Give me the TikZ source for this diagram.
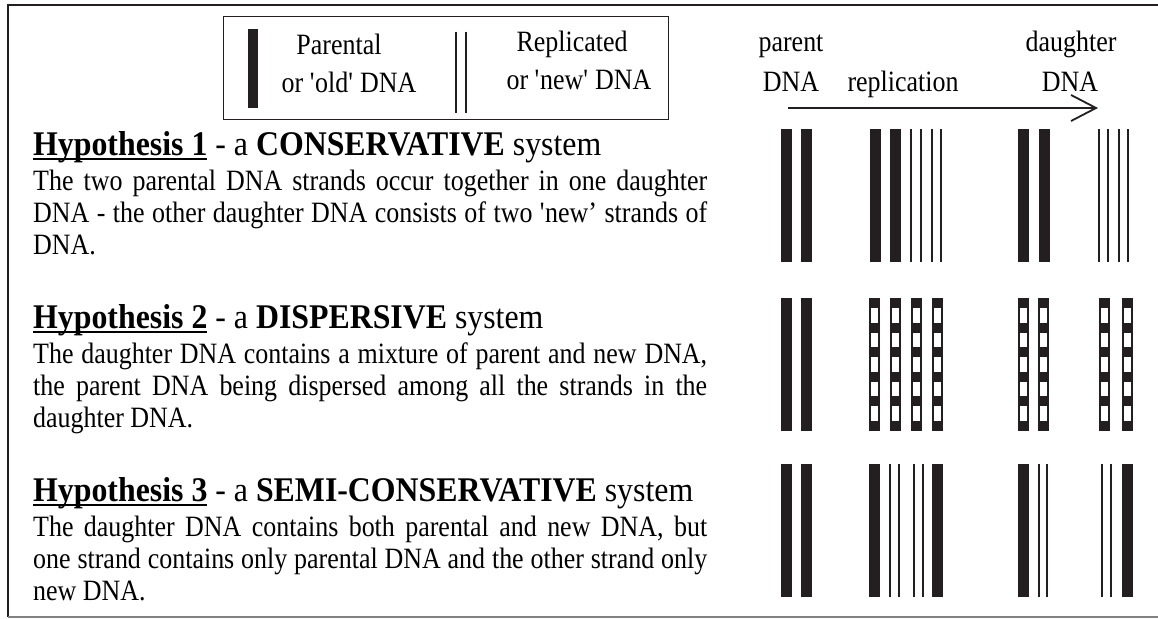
\documentclass[tikz,border=0pt]{standalone}
\usepackage{fontspec}
\setmainfont{Liberation Serif}[FakeStretch=0.88]
\newfontfamily\headfamily{Liberation Serif}[FakeStretch=0.92]
\usepackage{tikz}
\usetikzlibrary{arrows.meta, positioning}
\usepackage{xcolor}

\definecolor{strandblack}{HTML}{231F20}
\definecolor{framegray}{HTML}{808080}

\newcommand{\bodyfont}{\fontsize{29.5}{32}\selectfont}
\newcommand{\headfont}{\headfamily\fontsize{34.6}{38}\selectfont}
\newlength{\linew}\setlength{\linew}{674pt}
\newsavebox{\hypbox}
\newcommand{\hypname}[1]{\sbox{\hypbox}{\textbf{#1}}\rlap{\rule[-4.5pt]{\wd\hypbox}{2pt}}\usebox{\hypbox}}
\newcommand{\sq}{\textquotesingle}

\tikzset{
  headtext/.style={anchor=base west, inner sep=0pt, font=\headfont},
  bodytext/.style={anchor=base west, inner sep=0pt, font=\bodyfont},
  labeltext/.style={anchor=base, inner sep=0pt, font=\bodyfont},
  oldstrand/.style={fill=strandblack},
  newstrand/.style={draw=strandblack, line width=1.6pt},
}

% one strand of DNA: x of left edge (or centre for thin ones), y of top
\newcommand{\oldDNA}[2]{\fill[oldstrand] (#1,#2) rectangle ++(11,133);}
\newcommand{\newDNA}[2]{\draw[newstrand] (#1,#2) -- ++(0,133);}
\newcommand{\mixDNA}[2]{%
  \fill[oldstrand] (#1,#2) rectangle ++(11,133);
  \foreach \k in {0,...,4}
    \fill[white] ({#1+1.8},{#2+10+\k*24.6}) rectangle ++(7.4,14.6);}

\begin{document}
\begin{tikzpicture}[x=1pt, y=-1pt]
  \useasboundingbox (0,0) rectangle (1158,618);

  % frame
  \coordinate (frameTL) at (8,5);
  \coordinate (frameTR) at (1158,5);
  \coordinate (frameBL) at (8,617);
  \coordinate (frameBR) at (1158,617);
  \draw[line width=2.4pt, strandblack] (frameTR) -- (frameTL) -- (frameBL);
  \draw[line width=1.4pt, framegray] (frameBL) -- (frameBR);

  % key
  \node[draw=strandblack, line width=1.4pt, inner sep=0pt, anchor=north west,
        minimum width=445pt, minimum height=103pt] (key) at (223,16) {};
  \fill[oldstrand] (248,29) rectangle (258,108);
  \draw[newstrand] (456,32) -- (456,113);
  \draw[newstrand] (466,32) -- (466,113);
  \node[labeltext] (keyoldA) at (339,55) {Parental};
  \node[labeltext] (keyoldB) at (349,92) {or \sq old\sq{} DNA};
  \node[labeltext] (keynewA) at (572,52) {Replicated};
  \node[labeltext] (keynewB) at (579,89) {or \sq new\sq{} DNA};

  % column labels and arrow
  \node[labeltext] (parentA) at (791,52) {parent};
  \node[labeltext] (parentB) at (791,91) {DNA};
  \node[labeltext] (repl) at (903,91) {replication};
  \node[labeltext] (daughterA) at (1071,52) {daughter};
  \node[labeltext] (daughterB) at (1070,91) {DNA};
  \coordinate (arrowL) at (788,108);
  \coordinate (arrowR) at (1098,108);
  \draw[line width=1.8pt, strandblack, -{Straight Barb[length=25pt, width=26pt]}]
    (arrowL) -- (arrowR);

  % Hypothesis 1
  \node[headtext] (hyp1) at (33,155)
    {\hypname{Hypothesis 1} - a \textbf{CONSERVATIVE} system};
  \node[bodytext] (hyp1a) at ([yshift=-35pt]hyp1.base west)
    {\makebox[\linew][s]{The two parental DNA strands occur together in one daughter}};
  \node[bodytext] (hyp1b) at ([yshift=-32pt]hyp1a.base west)
    {\makebox[\linew][s]{DNA - the other daughter DNA consists of two \sq new’ strands of}};
  \node[bodytext] (hyp1c) at ([yshift=-32pt]hyp1b.base west) {DNA.};
  \oldDNA{781}{129} \oldDNA{801}{129}
  \oldDNA{870}{129} \oldDNA{890}{129}
  \newDNA{911}{129} \newDNA{921}{129} \newDNA{932}{129} \newDNA{941}{129}
  \oldDNA{1018}{129} \oldDNA{1039}{129}
  \newDNA{1099}{129} \newDNA{1108}{129} \newDNA{1119}{129} \newDNA{1128}{129}

  % Hypothesis 2
  \node[headtext] (hyp2) at (33,328)
    {\hypname{Hypothesis 2} - a \textbf{DISPERSIVE} system};
  \node[bodytext] (hyp2a) at ([yshift=-35pt]hyp2.base west)
    {\makebox[\linew][s]{The daughter DNA contains a mixture of parent and new DNA,}};
  \node[bodytext] (hyp2b) at ([yshift=-32pt]hyp2a.base west)
    {\makebox[\linew][s]{the parent DNA being dispersed among all the strands in the}};
  \node[bodytext] (hyp2c) at ([yshift=-32pt]hyp2b.base west) {daughter DNA.};
  \oldDNA{781}{298} \oldDNA{801}{298}
  \mixDNA{869}{298} \mixDNA{890}{298} \mixDNA{911}{298} \mixDNA{932}{298}
  \mixDNA{1018}{298} \mixDNA{1038}{298}
  \mixDNA{1099}{298} \mixDNA{1122}{298}

  % Hypothesis 3
  \node[headtext] (hyp3) at (33,501)
    {\hypname{Hypothesis 3} - a \textbf{SEMI-CONSERVATIVE} system};
  \node[bodytext] (hyp3a) at ([yshift=-35pt]hyp3.base west)
    {\makebox[\linew][s]{The daughter DNA contains both parental and new DNA, but}};
  \node[bodytext] (hyp3b) at ([yshift=-32pt]hyp3a.base west)
    {\makebox[\linew][s]{one strand contains only parental DNA and the other strand only}};
  \node[bodytext] (hyp3c) at ([yshift=-32pt]hyp3b.base west) {new DNA.};
  \oldDNA{781}{464} \oldDNA{801}{464}
  \oldDNA{869}{464} \newDNA{890}{464} \newDNA{899}{464}
  \newDNA{914}{464} \newDNA{923}{464} \oldDNA{932}{464}
  \oldDNA{1018}{464} \newDNA{1039}{464} \newDNA{1047}{464}
  \newDNA{1102}{464} \newDNA{1111}{464} \oldDNA{1122}{464}
\end{tikzpicture}
\end{document}
